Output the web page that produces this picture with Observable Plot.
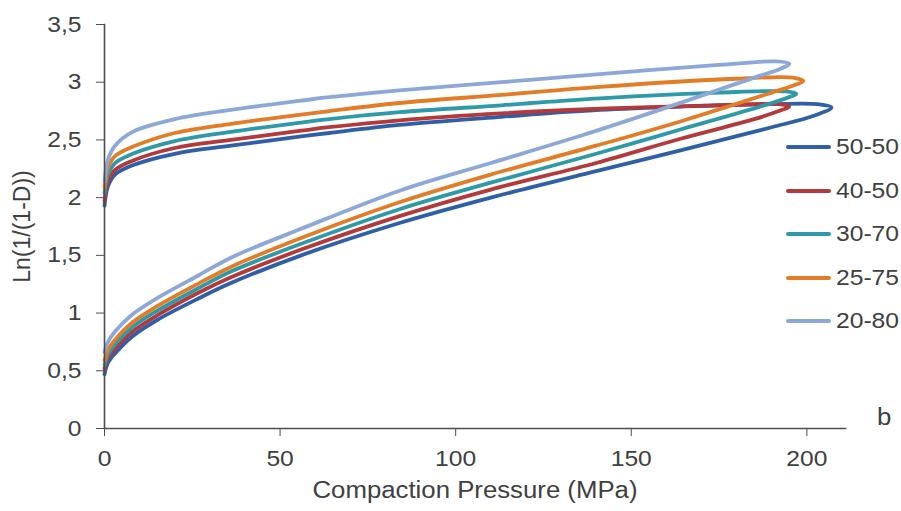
<!DOCTYPE html>
<html><head><meta charset="utf-8">
<script src="https://cdn.jsdelivr.net/npm/d3@7"></script>
<script src="https://cdn.jsdelivr.net/npm/@observablehq/plot@0.6"></script>
<style>
body{margin:0;background:#fff;}
#wrap{position:relative;width:901px;height:511px;font-family:"Liberation Sans",Arial,sans-serif;color:#404040;overflow:hidden;}
.leg{position:absolute;left:786px;height:0;}
.leg .sw{position:absolute;left:0;top:-2px;width:45px;height:4px;border-radius:2px;}
.leg .tx{position:absolute;left:50px;top:-13px;font-size:22px;line-height:26px;white-space:nowrap;transform:scaleX(1.12);transform-origin:left center;}
#blabel{position:absolute;left:877px;top:404px;font-size:23px;transform:scaleX(1.12);transform-origin:left center;}
</style></head>
<body><div id="wrap"></div>
<script>
// Series names
const series = ["50-50", "40-50", "30-70", "25-75", "20-80"];
// Axis ticks
const xTicks = [0, 50, 100, 150, 200];
const yTicks = [0, 0.5, 1, 1.5, 2, 2.5, 3, 3.5];
const xLabel = "Compaction Pressure (MPa)";
const yLabel = "Ln(1/(1-D))";
const cornerLabel = "b";

// Each loop: loading (rising) then unloading (back to 0) — pressure (MPa) and Ln(1/(1-D))
const p5050 = [0, 1, 3, 8, 15, 27, 36, 56, 84, 110, 140, 164, 190, 202, 207, 203, 190, 165, 141, 113, 84, 64, 56, 36, 20, 8, 3, 1, 0];
const v5050 = [0.47, 0.57, 0.65, 0.80, 0.94, 1.13, 1.26, 1.50, 1.78, 2.00, 2.23, 2.41, 2.61, 2.71, 2.78, 2.81, 2.81, 2.79, 2.76, 2.70, 2.63, 2.56, 2.53, 2.45, 2.38, 2.28, 2.20, 2.10, 1.93];

const p4050 = [0, 1, 3, 8, 15, 27, 36, 56, 84, 110, 140, 164, 185, 192, 195, 192, 175, 141, 113, 84, 64, 56, 36, 20, 8, 3, 1, 0];
const v4050 = [0.52, 0.61, 0.69, 0.84, 0.98, 1.18, 1.31, 1.55, 1.84, 2.07, 2.30, 2.51, 2.68, 2.75, 2.79, 2.81, 2.80, 2.77, 2.73, 2.67, 2.61, 2.58, 2.50, 2.43, 2.32, 2.24, 2.14, 1.97];

const p3070 = [0, 1, 3, 8, 15, 27, 36, 56, 84, 110, 140, 164, 188, 194, 197, 194, 175, 141, 113, 84, 64, 56, 36, 20, 8, 3, 1, 0];
const v3070 = [0.55, 0.64, 0.73, 0.88, 1.02, 1.22, 1.36, 1.60, 1.90, 2.13, 2.38, 2.59, 2.80, 2.86, 2.90, 2.92, 2.91, 2.86, 2.80, 2.74, 2.68, 2.65, 2.57, 2.49, 2.38, 2.30, 2.20, 2.04];

const p2575 = [0, 1, 3, 8, 15, 27, 36, 56, 84, 110, 140, 164, 190, 196, 199, 196, 180, 141, 113, 84, 64, 56, 36, 20, 8, 3, 1, 0];
const v2575 = [0.59, 0.68, 0.77, 0.92, 1.06, 1.26, 1.40, 1.65, 1.96, 2.20, 2.45, 2.66, 2.91, 2.97, 3.01, 3.04, 3.03, 2.96, 2.89, 2.82, 2.75, 2.72, 2.64, 2.56, 2.44, 2.36, 2.26, 2.09];

const p2080 = [0, 1, 3, 8, 15, 27, 36, 56, 84, 110, 136, 160, 185, 192, 195, 191, 175, 141, 113, 84, 64, 56, 36, 20, 8, 3, 1, 0];
const v2080 = [0.66, 0.75, 0.84, 0.99, 1.13, 1.33, 1.48, 1.73, 2.06, 2.30, 2.54, 2.78, 3.04, 3.11, 3.16, 3.18, 3.15, 3.07, 3.00, 2.93, 2.87, 2.84, 2.76, 2.68, 2.57, 2.45, 2.33, 2.14];

const pressures = [p5050, p4050, p3070, p2575, p2080];
const values = [v5050, v4050, v3070, v2575, v2080];

// Styles
const colors = ["#2f5fa6", "#b3393a", "#2e9aa9", "#e37c26", "#8da8d8"];
const axisColor = "#4d4d4d";

const rows = [];
series.forEach((s, k) => {
  pressures[k].forEach((p, i) => rows.push({series: s, P: p, v: values[k][i], i}));
});

const fmt = d => String(d).replace(".", ",");

const chart = Plot.plot({
  width: 901, height: 511,
  marginLeft: 104, marginRight: 56, marginTop: 24, marginBottom: 83,
  style: {fontFamily: "'Liberation Sans', Arial, sans-serif", fontSize: "22px", color: "#404040", background: "white", overflow: "visible"},
  x: {domain: [0, 211]},
  y: {domain: [0, 3.5]},
  color: {domain: series, range: colors},
  marks: [
    Plot.line(rows, {x: "P", y: "v", z: "series", stroke: "series", curve: "catmull-rom", strokeWidth: 3.8, strokeLinejoin: "round", strokeLinecap: "round"}),
    Plot.frame({anchor: "bottom", stroke: axisColor, strokeWidth: 1.6}),
    Plot.frame({anchor: "left", stroke: axisColor, strokeWidth: 1.6}),
    Plot.axisX({ticks: xTicks, tickSize: 8, tickPadding: 14, label: null, tickFormat: fmt, stroke: axisColor}),
    Plot.axisY({ticks: yTicks, tickSize: 8, tickPadding: 15, label: null, tickFormat: fmt, stroke: axisColor}),
    Plot.text([xLabel], {frameAnchor: "bottom", dy: 69, text: d => d, fontSize: 23, className: "xlab"}),
    Plot.text([yLabel], {frameAnchor: "left", dx: -82, textAnchor: "middle", rotate: -90, text: d => d, fontSize: 23})
  ]
});

const wrap = document.getElementById("wrap");
wrap.appendChild(chart);

// legend
series.forEach((s, k) => {
  const d = document.createElement("div");
  d.className = "leg";
  d.style.top = (147 + k * 43.5) + "px";
  d.innerHTML = `<div class="sw" style="background:${colors[k]}"></div><div class="tx">${s}</div>`;
  wrap.appendChild(d);
});
const b = document.createElement("div");
b.id = "blabel";
b.textContent = cornerLabel;
wrap.appendChild(b);

// horizontal glyph stretch as in the reference
d3.select(chart).selectAll("g[aria-label='x-axis tick label'] text, g[aria-label='y-axis tick label'] text, .xlab text").each(function() {
  const L = this.getComputedTextLength();
  if (L > 0) {
    this.setAttribute("textLength", L * 1.12);
    this.setAttribute("lengthAdjust", "spacingAndGlyphs");
  }
});
</script>
</body></html>
